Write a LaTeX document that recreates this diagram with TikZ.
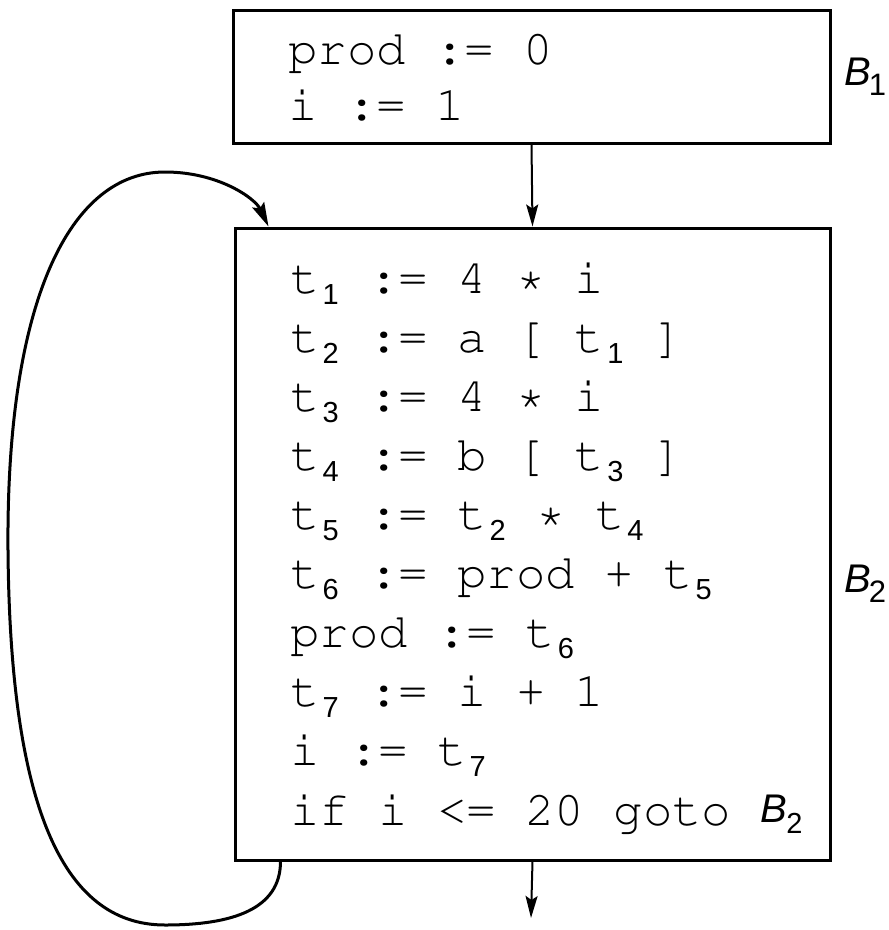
\documentclass[tikz,border=0pt]{standalone}
\usepackage[T1]{fontenc}
\usepackage{fontspec}
\setmainfont{Liberation Sans}
\newfontfamily\labfont{Liberation Sans}
\newfontfamily\labitfont{Liberation Sans Italic}
\newcommand{\courfont}{\fontencoding{T1}\fontfamily{pcr}\fontseries{m}\fontshape{n}\selectfont}
\usetikzlibrary{arrows.meta}
\newcommand{\subd}[1]{\hspace{3pt}\raisebox{-11pt}{\labfont\fontsize{29pt}{29pt}\selectfont #1}\hspace{1pt}}
\newcommand{\blabin}[1]{\raisebox{3pt}{\labitfont\fontsize{40pt}{40pt}\selectfont B}\hspace{-1pt}\raisebox{-8pt}{\labfont\fontsize{29pt}{29pt}\selectfont #1}}
\newcommand{\blab}[1]{{\labitfont\fontsize{40pt}{40pt}\selectfont B}\hspace{-2pt}\raisebox{-10pt}{\labfont\fontsize{31pt}{31pt}\selectfont #1}}
\tikzset{
  blockbox/.style={draw, line width=3pt, inner sep=0pt},
  codeline/.style={anchor=base west, inner sep=0pt, font=\courfont\fontsize{49}{59}\selectfont},
  blocklabel/.style={anchor=base west, inner sep=0pt, font=\labfont\fontsize{40}{44}\selectfont},
  flow/.style={line width=2pt, -{Stealth[length=22pt,width=12pt,inset=4pt]}},
  loopline/.style={line width=3pt, -{Stealth[length=24pt,width=13pt,inset=4pt]}}
}
\begin{document}
\begin{tikzpicture}[x=1pt,y=-1pt]
\useasboundingbox (0,0) rectangle (889,930);
% blocks
\node[blockbox, minimum width=597pt, minimum height=133pt] (b1) at (531.5,76.5) {};
\node[blockbox, minimum width=595pt, minimum height=632pt] (b2) at (532.5,544) {};
% B1 code
\node[codeline] (p1) at (288,64) {prod := 0};
\node[codeline] (p2) at (288,120) {i := 1};
% B2 code
\node[codeline] (c1) at (290,293) {t\subd{1} := 4 * i};
\node[codeline] (c2) at (290,352.1) {t\subd{2} := a [ t\subd{1} ]};
\node[codeline] (c3) at (290,411.2) {t\subd{3} := 4 * i};
\node[codeline] (c4) at (290,470.3) {t\subd{4} := b [ t\subd{3} ]};
\node[codeline] (c5) at (290,529.4) {t\subd{5} := t\subd{2} * t\subd{4}};
\node[codeline] (c6) at (290,588.5) {t\subd{6} := prod + t\subd{5}};
\node[codeline] (c7) at (290,647.6) {prod := t\subd{6}};
\node[codeline] (c8) at (290,706.7) {t\subd{7} := i + 1};
\node[codeline] (c9) at (290,765.8) {i := t\subd{7}};
\node[codeline] (c10) at (290,825) {if i <= 20 goto \blabin{2}};
% labels
\node[blocklabel] (l1) at (844,85) {\blab{1}};
\node[blocklabel] (l2) at (844,592) {\blab{2}};
% connectors
\coordinate (out) at (531,918);
\draw[flow] (b1.south) -- (b2.north);
\draw[flow] (b2.south) -- (out);
\draw[loopline] ([xshift=47pt]b2.south west)
  .. controls +(0,48) and (232,925) .. (165,925)
  .. controls (60,925) and (10,800) .. (8,550)
  .. controls (6,300) and (70,172) .. (165,172)
  .. controls (218,172) and (255,198) .. ([xshift=35pt]b2.north west);
\end{tikzpicture}
\end{document}
